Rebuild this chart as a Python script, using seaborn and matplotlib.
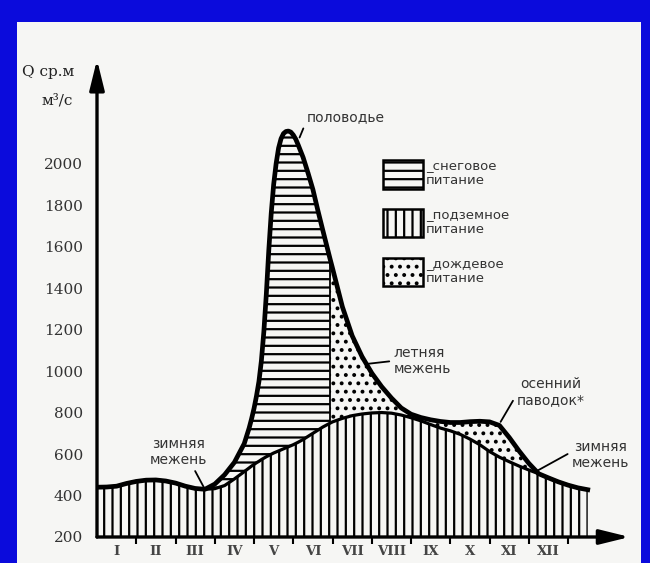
import numpy as np
import seaborn as sns
import matplotlib.pyplot as plt
from matplotlib.patches import Patch, Rectangle

# месяцы (1 = январь, центр месяца), расход в м3/с
months = [0.5, 0.75, 1.0, 1.25, 1.5, 1.75, 2.0, 2.25, 2.5, 2.75, 3.0, 3.25,
          3.5, 3.75, 4.0, 4.25,
          4.375, 4.4375, 4.5, 4.5625, 4.625, 4.6875, 4.75, 4.8125, 4.875,
          4.9375, 5.0, 5.0625, 5.125, 5.1875, 5.25, 5.3125, 5.375, 5.4375,
          5.5, 5.5625, 5.625,
          5.75, 5.875, 6.0, 6.125, 6.25, 6.4375,
          6.5, 6.75, 7.0, 7.25, 7.5, 7.75, 8.0, 8.25, 8.5, 8.75, 9.0, 9.25,
          9.5, 9.75, 10.0, 10.25, 10.5, 10.75, 11.0, 11.25, 11.5, 11.75,
          12.0, 12.25, 12.5, 12.75, 13.0]

# подземное питание (нижняя кривая)
base_flow = [440, 441, 445, 458, 468, 474, 475, 470, 460, 445, 434, 430,
             433, 448, 480, 515,
             533, 542, 550, 558, 565, 573, 580, 587, 593,
             599, 605, 610, 615, 620, 625, 630, 635, 640,
             645, 651, 657,
             670, 685, 700, 715, 730, 749,
             755, 772, 785, 793, 798, 800, 797, 788, 775, 760, 742, 725,
             712, 695, 672, 645, 612, 585, 563, 542, 523, 505,
             485, 466, 450, 437, 428]

# общий расход (верхняя кривая)
total_flow = [440, 441, 445, 458, 468, 474, 475, 470, 460, 445, 434, 430,
              455, 500, 560, 650,
              725, 770, 820, 880, 950, 1050, 1190, 1370, 1580,
              1760, 1900, 2000, 2075, 2120, 2145, 2155, 2157, 2152,
              2138, 2118, 2090,
              2030, 1955, 1875, 1775, 1680, 1540,
              1495, 1310, 1170, 1070, 990, 925, 870, 822, 792, 776, 765, 757,
              752, 752, 756, 758, 755, 738, 680, 615, 555, 505,
              485, 466, 450, 437, 428]

split_month = 6.4375  # граница снегового и дождевого питания
month_labels = ['I', 'II', 'III', 'IV', 'V', 'VI', 'VII', 'VIII', 'IX', 'X', 'XI', 'XII']
y_ticks = [200, 400, 600, 800, 1000, 1200, 1400, 1600, 1800, 2000]

plt.rcParams['hatch.linewidth'] = 1.6
plt.rcParams['hatch.color'] = 'black'

m = np.array(months)
base = np.array(base_flow)
total = np.array(total_flow)

fig = plt.figure(figsize=(6.5, 5.63), dpi=100, facecolor='#0b0bdc')
fig.patches.append(Rectangle((17 / 650, 0), (641 - 17) / 650, (563 - 22) / 563,
                             transform=fig.transFigure, facecolor='#f6f6f4',
                             edgecolor='none', zorder=-10))
ax = fig.add_axes([97 / 650, 26 / 563, 530 / 650, 475 / 563])
ax.set_facecolor('none')
ax.set_zorder(5)

# штриховки
ax.fill_between(m, 200, base, facecolor='none', edgecolor='black', lw=0, hatch='||')
ax.fill_between(m, base, total, where=m <= split_month, facecolor='none',
                edgecolor='black', lw=0, hatch='--')
ax.fill_between(m, base, total, where=m >= split_month, facecolor='none',
                edgecolor='black', lw=0, hatch='..')
i = months.index(split_month)
ax.vlines(split_month, base[i], total[i], color='black', lw=1.3)

sns.lineplot(x=m, y=base, color='black', lw=2.3, sort=False, estimator=None, ax=ax)
sns.lineplot(x=m, y=total, color='black', lw=3.4, sort=False, estimator=None, ax=ax)

ax.set_xlim(0.5, 14.0)
ax.set_ylim(200, 2490)
for s in ax.spines.values():
    s.set_visible(False)

# оси со стрелками
arrow = dict(arrowstyle='-|>,head_length=1.3,head_width=0.32', lw=2.4,
             color='black', mutation_scale=14, shrinkA=0, shrinkB=0)
ax.annotate('', xy=(1.005, 0), xytext=(0, 0), xycoords='axes fraction', arrowprops=arrow)
ax.annotate('', xy=(0, 1.005), xytext=(0, 0), xycoords='axes fraction', arrowprops=arrow)

ax.set_yticks(y_ticks)
ax.set_yticklabels([str(v) for v in y_ticks], family='DejaVu Serif', fontsize=11, color='#333333')
ax.tick_params(axis='y', length=0, pad=10)
ax.set_xticks(range(1, 13))
ax.set_xticklabels(month_labels, family='DejaVu Serif', fontweight='bold', fontsize=9.5, color='#444444')
ax.set_xticks(np.arange(1.5, 13, 1), minor=True)
ax.tick_params(axis='x', which='major', length=0, pad=6)
ax.tick_params(axis='x', which='minor', length=5, width=1.5, color='black')

ax.text(-0.142, 0.979, 'Q ср.м', transform=ax.transAxes, family='DejaVu Serif',
        fontsize=11, color='#222222', ha='left', va='center')
ax.text(-0.075, 0.92, 'м³/с', transform=ax.transAxes, family='DejaVu Serif',
        fontsize=11, color='#222222', ha='center', va='center')

# подписи
note = dict(family='DejaVu Sans', fontsize=10, color='#333333', linespacing=1.2)
line = dict(arrowstyle='-', lw=1.3, color='black', shrinkA=1, shrinkB=0)
ax.annotate('половодье', xy=(5.66, 2126), xytext=(5.84, 2222), ha='left', va='center',
            arrowprops=dict(line, relpos=(0, 0.3)), **note)
ax.annotate('летняя\nмежень', xy=(7.4, 1035), xytext=(8.05, 1049), ha='left', va='center',
            arrowprops=dict(line, relpos=(0, 0.5)), **note)
ax.annotate('осенний\nпаводок*', xy=(10.78, 755), xytext=(12.05, 900), ha='center', va='center',
            arrowprops=dict(line, relpos=(0, 0.4)), **note)
ax.annotate('зимняя\nмежень', xy=(11.72, 520), xytext=(13.32, 596), ha='center', va='center',
            arrowprops=dict(line, relpos=(0, 0.6)), **note)
ax.annotate('зимняя\nмежень', xy=(3.22, 440), xytext=(2.58, 610), ha='center', va='center',
            arrowprops=dict(line, relpos=(0.75, 0)), **note)

handles = [Patch(facecolor='none', edgecolor='black', lw=1.8, hatch='--'),
           Patch(facecolor='none', edgecolor='black', lw=1.8, hatch='||'),
           Patch(facecolor='none', edgecolor='black', lw=1.8, hatch='..')]
labels = ['_снеговое\nпитание', '_подземное\nпитание', '_дождевое\nпитание']
leg = ax.legend(handles, labels, loc='upper left', bbox_to_anchor=(0.54, 0.795),
                frameon=False, borderpad=0, borderaxespad=0, handlelength=3.0,
                handleheight=2.9, handletextpad=0.25, labelspacing=1.5,
                prop={'family': 'DejaVu Sans', 'size': 9.5})
for t in leg.get_texts():
    t.set_color('#333333')

fig.savefig('out.png', dpi=100, facecolor=fig.get_facecolor())
